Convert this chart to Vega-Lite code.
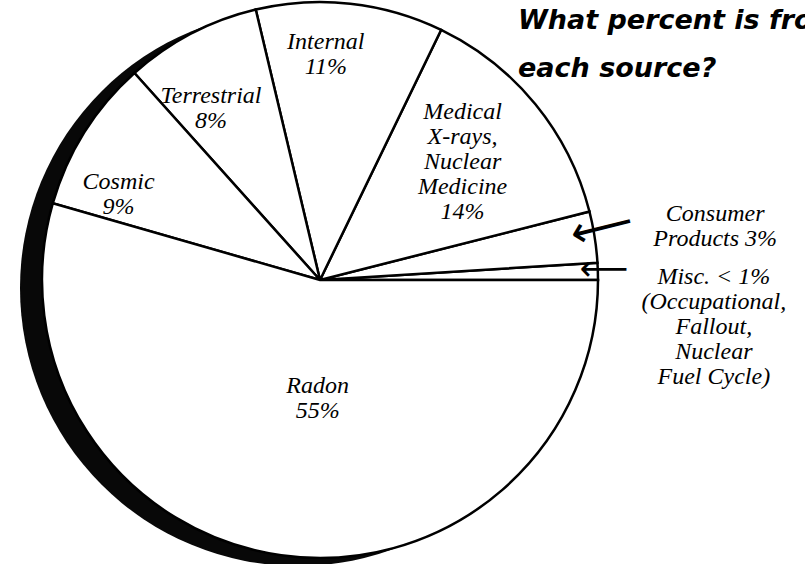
{
  "$schema": "https://vega.github.io/schema/vega-lite/v6.json",
  "autosize": "none",
  "width": 640,
  "height": 560,
  "padding": {"left": 0, "top": 0, "right": 165, "bottom": 4},
  "background": "white",
  "config": {"view": {"stroke": null}},
  "data": {
    "values": [
      {"source": "Misc.", "value": 1, "order": 1, "label": "Misc. < 1%\n(Occupational,\nFallout,\nNuclear\nFuel Cycle)"},
      {"source": "Consumer Products", "value": 3, "order": 2, "label": "Consumer\nProducts 3%"},
      {"source": "Medical", "value": 14, "order": 3, "label": "Medical\nX-rays,\nNuclear\nMedicine\n14%"},
      {"source": "Internal", "value": 11, "order": 4, "label": "Internal\n11%"},
      {"source": "Terrestrial", "value": 8, "order": 5, "label": "Terrestrial\n8%"},
      {"source": "Cosmic", "value": 9, "order": 6, "label": "Cosmic\n9%"},
      {"source": "Radon", "value": 55, "order": 7, "label": "Radon\n55%"}
    ]
  },
  "encoding": {
    "theta": {"field": "value", "type": "quantitative", "stack": true, "scale": {"range": [1.5708, -4.7124]}},
    "order": {"field": "order", "type": "quantitative"}
  },
  "layer": [
    {
      "data": {"values": [{"part": "edge"}]},
      "mark": {"type": "arc", "theta": 0, "theta2": 6.2832, "radius": 278, "fill": "#080808", "stroke": null, "xOffset": -22, "yOffset": 8},
      "encoding": {"theta": null, "order": null}
    },
    {
      "mark": {"type": "arc", "radius": 278, "fill": "white", "stroke": "black", "strokeWidth": 2.5}
    },
    {
      "mark": {"type": "text", "radius": 228, "dx": -19, "dy": -11, "font": "Liberation Serif", "fontStyle": "italic", "fontSize": 24, "lineHeight": 25, "lineBreak": "\n", "baseline": "middle", "align": "center", "color": "black"},
      "encoding": {"text": {"condition": {"test": "datum.source === 'Internal'", "field": "label"}, "value": ""}}
    },
    {
      "mark": {"type": "text", "radius": 184, "dy": -52, "font": "Liberation Serif", "fontStyle": "italic", "fontSize": 24, "lineHeight": 25, "lineBreak": "\n", "baseline": "middle", "align": "center", "color": "black"},
      "encoding": {"text": {"condition": {"test": "datum.source === 'Medical'", "field": "label"}, "value": ""}}
    },
    {
      "mark": {"type": "text", "radius": 222, "dx": -6, "dy": 13, "font": "Liberation Serif", "fontStyle": "italic", "fontSize": 24, "lineHeight": 25, "lineBreak": "\n", "baseline": "middle", "align": "center", "color": "black"},
      "encoding": {"text": {"condition": {"test": "datum.source === 'Terrestrial'", "field": "label"}, "value": ""}}
    },
    {
      "mark": {"type": "text", "radius": 220, "dx": -15, "dy": 19, "font": "Liberation Serif", "fontStyle": "italic", "fontSize": 24, "lineHeight": 25, "lineBreak": "\n", "baseline": "middle", "align": "center", "color": "black"},
      "encoding": {"text": {"condition": {"test": "datum.source === 'Cosmic'", "field": "label"}, "value": ""}}
    },
    {
      "mark": {"type": "text", "radius": 117, "dx": 14, "dy": -10, "font": "Liberation Serif", "fontStyle": "italic", "fontSize": 24, "lineHeight": 25, "lineBreak": "\n", "baseline": "middle", "align": "center", "color": "black"},
      "encoding": {"text": {"condition": {"test": "datum.source === 'Radon'", "field": "label"}, "value": ""}}
    },
    {
      "mark": {"type": "text", "radius": 400, "dy": -4, "font": "Liberation Serif", "fontStyle": "italic", "fontSize": 24, "lineHeight": 25, "lineBreak": "\n", "baseline": "middle", "align": "center", "color": "black"},
      "encoding": {"text": {"condition": {"test": "datum.source === 'Consumer Products'", "field": "label"}, "value": ""}}
    },
    {
      "mark": {"type": "text", "radius": 394, "dy": 9, "font": "Liberation Serif", "fontStyle": "italic", "fontSize": 24, "lineHeight": 25, "lineBreak": "\n", "baseline": "middle", "align": "center", "color": "black"},
      "encoding": {"text": {"condition": {"test": "datum.source === 'Misc.'", "field": "label"}, "value": ""}}
    },
    {
      "mark": {"type": "text", "radius": 287, "dy": -7, "angle": -14, "font": "DejaVu Sans", "fontSize": 44, "baseline": "middle", "align": "center", "color": "black"},
      "encoding": {"text": {"condition": {"test": "datum.source === 'Consumer Products'", "value": "⟵"}, "value": ""}}
    },
    {
      "mark": {"type": "text", "radius": 284, "dy": -1, "font": "DejaVu Sans", "fontSize": 34, "baseline": "middle", "align": "center", "color": "black"},
      "encoding": {"text": {"condition": {"test": "datum.source === 'Misc.'", "value": "⟵"}, "value": ""}}
    },
    {
      "data": {"values": [{"heading": "What percent is from each source?"}]},
      "mark": {"type": "text", "text": ["What percent is from", "each source?"], "dx": 198, "dy": -251, "font": "DejaVu Sans", "fontSize": 27, "fontWeight": "bold", "fontStyle": "italic", "lineHeight": 48, "baseline": "alphabetic", "align": "left", "color": "black"},
      "encoding": {"theta": null, "order": null}
    }
  ]
}
